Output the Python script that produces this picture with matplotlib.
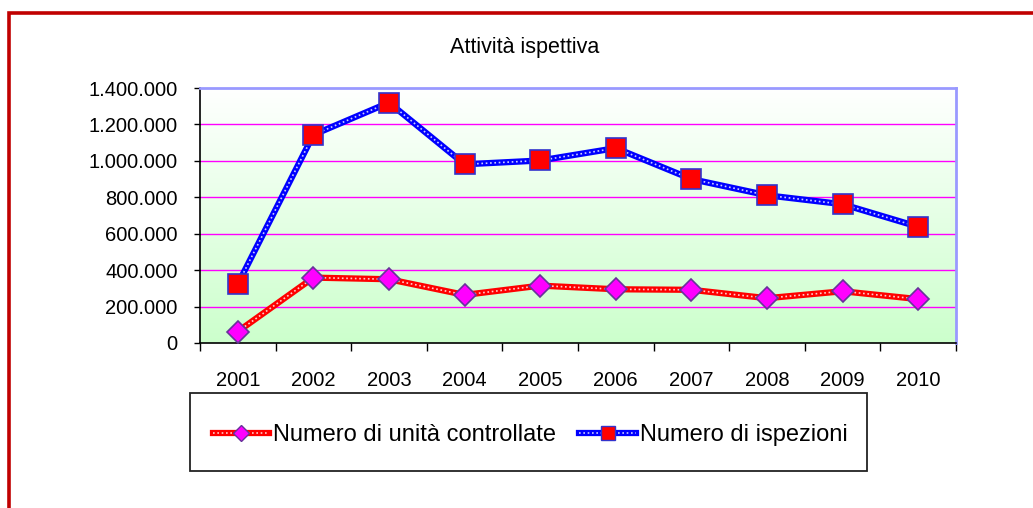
import numpy as np
import matplotlib
matplotlib.use("Agg")
import matplotlib.pyplot as plt
from matplotlib.lines import Line2D
from matplotlib.patches import Rectangle
from matplotlib.legend_handler import HandlerTuple
from matplotlib.ticker import FuncFormatter, FixedLocator

plt.rcParams['font.family'] = ['Liberation Sans', 'DejaVu Sans']

# data
years = ['2001', '2002', '2003', '2004', '2005', '2006', '2007', '2008', '2009', '2010']
unita_controllate = [63000, 359000, 350000, 264000, 315000, 295000, 292000, 246000, 284000, 241000]
ispezioni = [323000, 1143000, 1320000, 981000, 1002000, 1070000, 900000, 811000, 762000, 638000]
yticks = [0, 200000, 400000, 600000, 800000, 1000000, 1200000, 1400000]

fig = plt.figure(figsize=(10.33, 5.08), dpi=100)
fig.patch.set_facecolor('white')
ax = fig.add_axes([200 / 1033, 1 - 343 / 508, 756 / 1033, 255 / 508])

x = np.arange(len(years)) + 0.5

# background gradient white -> light green
grad = np.linspace(0, 1, 256).reshape(-1, 1)
top = np.array([1.0, 1.0, 1.0])
bot = np.array([0.80, 1.0, 0.80])
img = top + (bot - top) * grad[..., None]
ax.imshow(img, extent=[0, 1, 0, 1], transform=ax.transAxes, aspect='auto', zorder=0)

# gridlines
for t in yticks[1:-1]:
    ax.axhline(t, color='#FF00FF', lw=1.0, zorder=1)


def draw_series(vals, col, dotcol, marker, ms, mfc, mec):
    ax.plot(x, vals, color=col, lw=4.5, zorder=3, solid_capstyle='round')
    ax.plot(x, vals, color=dotcol, lw=1.2, ls=(0, (1, 1.6)), zorder=4)
    ax.plot(x, vals, ls='none', marker=marker, ms=ms, mfc=mfc, mec=mec, mew=1.2, zorder=5)


draw_series(unita_controllate, '#FF0000', '#FFCCCC', 'D', 11, '#FF00FF', '#663399')
draw_series(ispezioni, '#0000FF', '#CCCCFF', 's', 14, '#FF0000', '#3333CC')

ax.set_xlim(0, len(years))
ax.set_ylim(0, 1400000)

ax.xaxis.set_major_locator(FixedLocator(np.arange(len(years) + 1)))
ax.xaxis.set_minor_locator(FixedLocator(x))
ax.set_xticklabels([])
ax.set_xticklabels(years, minor=True)
ax.tick_params(axis='x', which='major', direction='out', length=6, width=1, color='black')
ax.tick_params(axis='x', which='minor', length=0, pad=20, labelsize=14.5)

ax.set_yticks(yticks)
ax.yaxis.set_major_formatter(FuncFormatter(lambda v, p: f"{int(v):,}".replace(',', '.')))
ax.tick_params(axis='y', direction='out', length=4.5, width=1, color='black', labelsize=14.5, pad=11.5)

for s in ['top', 'right']:
    ax.spines[s].set_color('#9999FF')
    ax.spines[s].set_linewidth(2)
for s in ['left', 'bottom']:
    ax.spines[s].set_color('black')
    ax.spines[s].set_linewidth(1.2)

fig.text(0.508, 1 - 47 / 508, 'Attività ispettiva', ha='center', va='center', fontsize=15.5)

# legend box
fig.patches.append(Rectangle((190 / 1033, 1 - 471 / 508), 677 / 1033, 78 / 508,
                             transform=fig.transFigure, fill=False, ec='#222222', lw=1.3))

h1 = (Line2D([], [], color='#FF0000', lw=4.5),
      Line2D([], [], color='#FFCCCC', lw=1.2, ls=(0, (1, 1.6))),
      Line2D([], [], ls='none', marker='D', ms=8, mfc='#FF00FF', mec='#663399'))
h2 = (Line2D([], [], color='#0000FF', lw=4.5),
      Line2D([], [], color='#CCCCFF', lw=1.2, ls=(0, (1, 1.6))),
      Line2D([], [], ls='none', marker='s', ms=10, mfc='#FF0000', mec='#3333CC'))
fig.legend([h1, h2], ['Numero di unità controllate', 'Numero di ispezioni'],
           handler_map={tuple: HandlerTuple(ndivide=1, pad=0)},
           loc='center', bbox_to_anchor=(0.513, 1 - 435 / 508), ncol=2, frameon=False,
           fontsize=17, handlelength=2.4, handletextpad=0.15, columnspacing=1.0)

# dark red outer frame (cut at right and bottom)
fig.patches.append(Rectangle((9 / 1033, -0.1), 1.2, 1 - 13.5 / 508 + 0.1,
                             transform=fig.transFigure, fill=False, ec='#C00000', lw=2.6))

fig.savefig('out.png', dpi=100)
